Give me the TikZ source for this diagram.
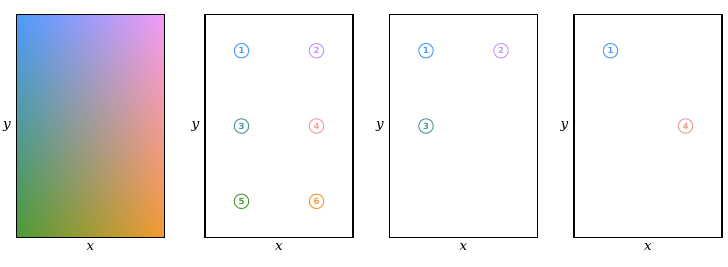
\documentclass[tikz,border=0pt]{standalone}
\usepackage{fontspec}
\newfontfamily\axisfont{DejaVu Serif}
\newfontfamily\cellfont{DejaVu Sans}
\usetikzlibrary{positioning,shadings}
\definecolor{cblue}{HTML}{4C9BFF}
\definecolor{cviolet}{HTML}{C597F8}
\definecolor{cteal}{HTML}{4E9898}
\definecolor{csalmon}{HTML}{F49A98}
\definecolor{cgreen}{HTML}{4E9A35}
\definecolor{corange}{HTML}{F59A30}
\definecolor{cpink}{HTML}{F39BF6}

\begin{document}
\begin{tikzpicture}[x=1pt,y=-1pt,panel/.style={draw,line width=1.1pt,minimum width=148pt,minimum height=223pt,inner sep=0pt},cell/.style={circle,draw,line width=1pt,minimum size=14.5pt,inner sep=0pt,font=\cellfont\bfseries\fontsize{8.5}{8.5}\selectfont},axis/.style={font=\axisfont\itshape\fontsize{13.5}{13.5}\selectfont,inner sep=0pt}]
\useasboundingbox (0,0) rectangle (728,266);
\node[panel,shade,upper left=cblue,upper right=cpink,lower left=cgreen,lower right=corange] (P1) at (90.5,126) {};
\node[panel] (P2) at (279,126) {};
\node[panel] (P3) at (463.5,126) {};
\node[panel] (P4) at (648,126) {};
\node[axis,left=5pt of P1] (Y1) {y};
\node[axis,below=5pt of P1] (X1) {x};
\node[axis,left=5pt of P2] (Y2) {y};
\node[axis,below=5pt of P2] (X2) {x};
\node[axis,left=5pt of P3] (Y3) {y};
\node[axis,below=5pt of P3] (X3) {x};
\node[axis,left=5pt of P4] (Y4) {y};
\node[axis,below=5pt of P4] (X4) {x};
\node[cell,draw=cblue,text=cblue] (B1) at (241.5,50.7) {1};
\node[cell,draw=cviolet,text=cviolet] (B2) at (316.5,50.7) {2};
\node[cell,draw=cteal,text=cteal] (B3) at (241.5,126) {3};
\node[cell,draw=csalmon,text=csalmon] (B4) at (316.5,126) {4};
\node[cell,draw=cgreen,text=cgreen] (B5) at (241.5,201.3) {5};
\node[cell,draw=corange,text=corange] (B6) at (316.5,201.3) {6};
\node[cell,draw=cblue,text=cblue] (C1) at (426,50.7) {1};
\node[cell,draw=cviolet,text=cviolet] (C2) at (501,50.7) {2};
\node[cell,draw=cteal,text=cteal] (C3) at (426,126) {3};
\node[cell,draw=cblue,text=cblue] (D1) at (610.5,50.7) {1};
\node[cell,draw=csalmon,text=csalmon] (D4) at (685.5,126) {4};
\end{tikzpicture}
\end{document}
